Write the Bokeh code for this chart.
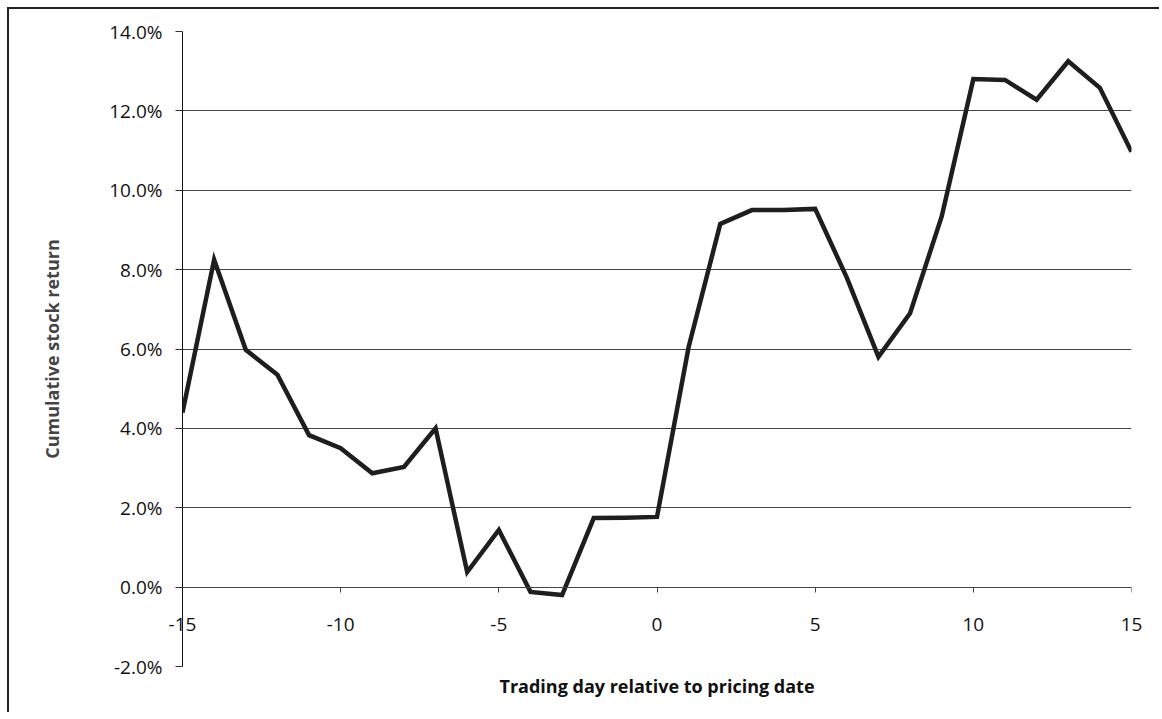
from bokeh.plotting import figure
from bokeh.models import (NumeralTickFormatter, FixedTicker, Title, Range1d,
                          LinearAxis)
from bokeh.embed import file_html
from bokeh.resources import INLINE

days = list(range(-15, 16))
cum_return = [0.0440, 0.0825, 0.0598, 0.0535, 0.0383, 0.0350, 0.0287, 0.0303,
              0.0400, 0.0038, 0.0144, -0.0012, -0.0020, 0.0174, 0.0175, 0.0177,
              0.0605, 0.0915, 0.0950, 0.0950, 0.0953, 0.0780, 0.0580, 0.0690,
              0.0934, 0.1280, 0.1278, 0.1228, 0.1325, 0.1258, 0.1097]
x_ticks = [-15, -10, -5, 0, 5, 10, 15]
x_tick_labels = ["-15", "-10", "-5", "0", "5", "10", "15"]
y_ticks = [-0.02, 0.0, 0.02, 0.04, 0.06, 0.08, 0.10, 0.12, 0.14]

FONT = "Open Sans"

p = figure(width=1152, height=705, output_backend="svg", toolbar_location=None,
           x_range=Range1d(-15, 15), y_range=Range1d(-0.02, 0.14),
           min_border_left=173, min_border_right=30, min_border_top=22,
           min_border_bottom=48)
p.styles = {"margin-left": "7px", "margin-top": "7px",
            "border-left": "2px solid #222", "border-top": "2px solid #222"}
p.outline_line_color = None

p.line(days, cum_return, line_color="#1e1e1e", line_width=4.5, line_join="miter")

# y axis
p.yaxis.ticker = FixedTicker(ticks=y_ticks)
p.yaxis.formatter = NumeralTickFormatter(format="0.0%")
p.yaxis.axis_label = "Cumulative stock return"
p.yaxis.axis_label_text_font = FONT
p.yaxis.axis_label_text_font_style = "bold"
p.yaxis.axis_label_text_font_size = "18px"
p.yaxis.axis_label_standoff = 42
p.yaxis.major_label_text_font = FONT
p.yaxis.major_label_text_font_size = "19px"
p.yaxis.major_label_text_color = "#111"
p.yaxis.major_label_standoff = 13
p.yaxis.major_tick_out = 7
p.yaxis.major_tick_in = 0
p.yaxis.minor_tick_line_color = None
p.yaxis.axis_line_color = "#111"
p.yaxis.major_tick_line_color = "#333"

# bottom axis: only carries the tick labels, shifted up next to the 0% line
lab_axis = p.xaxis[0]
lab_axis.ticker = FixedTicker(ticks=x_ticks)
lab_axis.major_label_overrides = {t: s for t, s in zip(x_ticks, x_tick_labels)}
lab_axis.axis_line_color = None
lab_axis.major_tick_line_color = None
lab_axis.minor_tick_line_color = None
lab_axis.major_tick_out = 0
lab_axis.major_tick_in = 0
lab_axis.major_label_standoff = -49
lab_axis.major_label_text_font = FONT
lab_axis.major_label_text_font_size = "19px"
lab_axis.major_label_text_color = "#111"

# axis line crossing at 0%
zero_axis = LinearAxis(fixed_location=0, ticker=FixedTicker(ticks=x_ticks),
                       major_label_overrides={t: "" for t in x_ticks},
                       major_tick_out=5, major_tick_in=0,
                       minor_tick_line_color=None,
                       axis_line_color="#444", major_tick_line_color="#444")
p.add_layout(zero_axis, "below")

p.add_layout(Title(text="Trading day relative to pricing date", align="center",
                   text_font=FONT, text_font_size="18px", text_font_style="bold",
                   text_color="#111"), "below")

p.xgrid.grid_line_color = None
p.ygrid.ticker = FixedTicker(ticks=y_ticks)
p.ygrid.grid_line_color = "#444"
p.ygrid.grid_line_width = 1

open("out.html", "w").write(file_html(p, INLINE))
